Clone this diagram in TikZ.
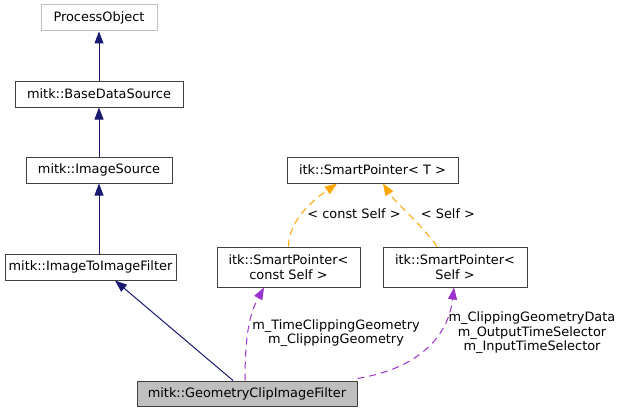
\documentclass[tikz,border=0pt]{standalone}
\usepackage{fontspec}
\setmainfont{DejaVu Sans}
\usetikzlibrary{arrows.meta}
\definecolor{edgeblue}{HTML}{191970}
\definecolor{tmplorange}{HTML}{FFA500}
\definecolor{usepurple}{HTML}{9A32CD}
\definecolor{boxgray}{HTML}{BFBFBF}
\definecolor{boxline}{HTML}{404040}
\newcommand\classtextstyle{\fontsize{12.9}{14.6}\selectfont}
\newcommand\classheight{26pt}
\tikzset{
  classbox/.style={draw=boxline, line width=1pt, minimum height=\classheight,
    inner sep=0pt, font=\classtextstyle, align=center},
  inherit/.style={edgeblue, line width=1pt, -{Triangle[length=12pt,width=9pt]}},
  tmpl/.style={tmplorange, line width=1pt, dash pattern=on 7pt off 5pt,
    -{Triangle[length=12pt,width=9pt]}},
  usage/.style={usepurple, line width=1pt, dash pattern=on 7pt off 5pt,
    -{Triangle[length=12pt,width=9pt]}},
  edgelabel/.style={font=\classtextstyle, align=center, inner sep=0pt}
}
\begin{document}
\begin{tikzpicture}[x=1pt,y=-1pt]
  \useasboundingbox (0,0) rectangle (629,412);
  % class boxes
  \node[classbox, draw=boxgray, minimum width=116pt] (procobj) at (99,18) {ProcessObject};
  \node[classbox, minimum width=168pt] (basesrc) at (99,94) {mitk::BaseDataSource};
  \node[classbox, minimum width=146pt] (imgsrc) at (99,170) {mitk::ImageSource};
  \node[classbox, minimum width=171pt] (imgfilter) at (90.5,267) {mitk::ImageToImageFilter};
  \node[classbox, minimum width=171pt] (smartptr) at (372.5,170) {itk::SmartPointer< T >};
  \node[classbox, minimum width=143pt, minimum height=40pt] (constptr) at (288.5,267)
    {itk::SmartPointer<\\const Self >};
  \node[classbox, minimum width=144pt, minimum height=40pt] (selfptr) at (455,267)
    {itk::SmartPointer<\\Self >};
  \node[classbox, fill=boxgray, minimum width=220pt, minimum height=25pt] (clipfilter) at (247,393.5)
    {mitk::GeometryClipImageFilter};
  % inheritance
  \draw[inherit] (basesrc.north) -- (procobj.south);
  \draw[inherit] (imgsrc.north) -- (basesrc.south);
  \draw[inherit] (imgfilter.north -| imgsrc.north) -- (imgsrc.south);
  \draw[inherit] ([xshift=-14pt]clipfilter.north) -- ([xshift=24.5pt]imgfilter.south);
  % template instances
  \draw[tmpl] (constptr.north) .. controls +(0,-28) and +(-20,14) .. ([xshift=-35.5pt]smartptr.south);
  \draw[tmpl] ([xshift=-18pt]selfptr.north) .. controls +(-12,-18) and +(10,16) .. ([xshift=10.5pt]smartptr.south);
  \node[edgelabel] (constlbl) at (354,214) {< const Self >};
  \node[edgelabel] (selflbl) at (448,214) {< Self >};
  % members
  \draw[usage] ([xshift=-2pt]clipfilter.north) .. controls +(0,-55) and +(-12,22) .. ([xshift=-24.5pt]constptr.south);
  \draw[usage] ([yshift=2pt]clipfilter.north east) .. controls +(60,-10) and +(-6,50) .. ([xshift=-1pt]selfptr.south);
  \node[edgelabel] (constmembers) at (336,333) {m\_TimeClippingGeometry\\m\_ClippingGeometry};
  \node[edgelabel] (selfmembers) at (532,333) {m\_ClippingGeometryData\\m\_OutputTimeSelector\\m\_InputTimeSelector};
\end{tikzpicture}
\end{document}
